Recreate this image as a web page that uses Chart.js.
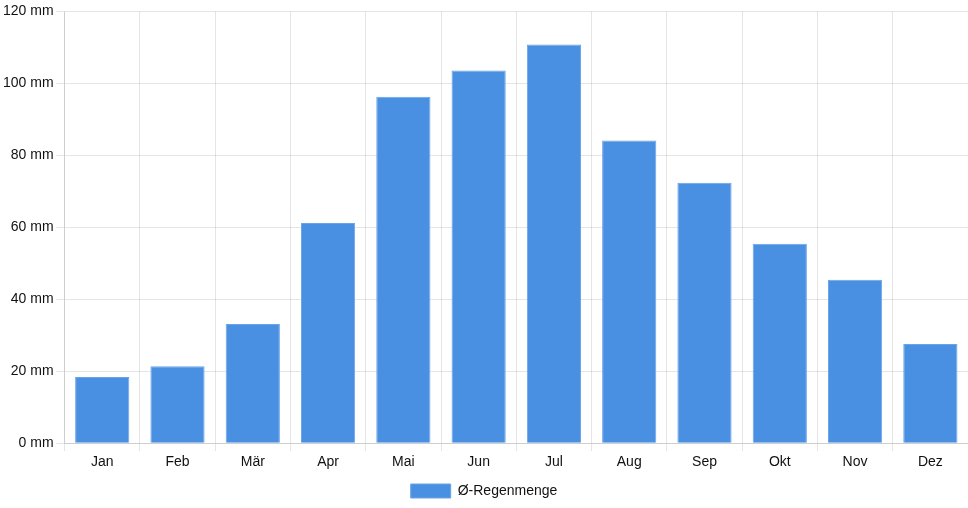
<!DOCTYPE html>
<html>
<head>
<meta charset="utf-8">
<script src="https://cdn.jsdelivr.net/npm/chart.js@4"></script>
<style>
  html, body { margin: 0; padding: 0; background: #fff; }
  #wrap { width: 968px; height: 508px; }
</style>
</head>
<body>
<div id="wrap"><canvas id="myChart"></canvas></div>
<script>
// data
const months = ['Jan', 'Feb', 'Mär', 'Apr', 'Mai', 'Jun', 'Jul', 'Aug', 'Sep', 'Okt', 'Nov', 'Dez']
const rain = [18.4, 21.4, 33.1, 61.2, 96.3, 103.6, 110.8, 84.1, 72.4, 55.4, 45.4, 27.6]
const seriesName = 'Ø-Regenmenge'

Chart.defaults.font.family = '"Liberation Sans", Arial, sans-serif'
Chart.defaults.font.size = 14
Chart.defaults.color = '#111'

const ctx = document.getElementById('myChart').getContext('2d')
new Chart(ctx, {
  type: 'bar',
  data: {
    labels: months,
    datasets: [{
      label: seriesName,
      data: rain,
      backgroundColor: '#4a90e2',
      borderColor: '#6aa3e8',
      borderWidth: 1
    }]
  },
  options: {
    responsive: true,
    maintainAspectRatio: false,
    animation: false,
    layout: { padding: { top: 2 } },
    plugins: {
      legend: {
        position: 'bottom',
        labels: { boxWidth: 40, boxHeight: 14 }
      },
      tooltip: { enabled: false }
    },
    scales: {
      y: {
        min: 0,
        max: 120,
        ticks: {
          stepSize: 20,
          callback: v => v + ' mm'
        }
      },
      x: {}
    }
  }
})
</script>
</body>
</html>
